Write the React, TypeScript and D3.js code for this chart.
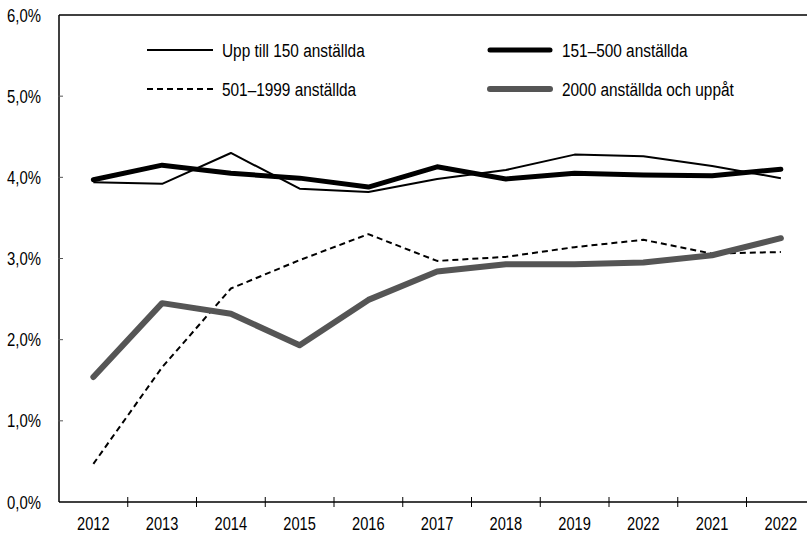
import React from "react";
import * as d3 from "d3";

const categories = ["2012", "2013", "2014", "2015", "2016", "2017", "2018", "2019", "2022", "2021", "2022"];
const upTo150 = [3.94, 3.92, 4.30, 3.86, 3.82, 3.98, 4.09, 4.28, 4.26, 4.14, 3.99];
const s151to500 = [3.97, 4.15, 4.05, 3.99, 3.88, 4.13, 3.98, 4.05, 4.03, 4.02, 4.10];
const s501to1999 = [0.47, 1.66, 2.63, 2.98, 3.30, 2.97, 3.02, 3.14, 3.23, 3.06, 3.08];
const s2000plus = [1.54, 2.45, 2.32, 1.93, 2.49, 2.84, 2.93, 2.93, 2.95, 3.04, 3.25];
const yTicks = [0, 1, 2, 3, 4, 5, 6];
const seriesNames = ["Upp till 150 anställda", "151–500 anställda", "501–1999 anställda", "2000 anställda och uppåt"];

const W = 807;
const H = 534;
const FONT = "'Liberation Sans', Arial, sans-serif";

function NText({ x, y, sx, size, anchor, children }: { x: number; y: number; sx: number; size: number; anchor?: string; children: React.ReactNode }) {
  return (
    <text
      transform={`translate(${x},${y}) scale(${sx},1)`}
      textAnchor={anchor || "start"}
      fontSize={size}
      fontFamily={FONT}
      fill="#000"
    >
      {children}
    </text>
  );
}

export default function App() {
  const left = 59;
  const top = 15;
  const bottom = 502;
  const band = 68.75;
  const idx = categories.map((_, i) => i);
  const x = d3.scaleBand<number>().domain(idx).range([left, left + band * categories.length]).padding(0);
  const y = d3.scaleLinear().domain([0, 6]).range([bottom, top]);
  const cx = (i: number) => (x(i) as number) + x.bandwidth() / 2;
  const line = d3.line<number>().x((_, i) => cx(i)).y((d) => y(d));

  const styles = [
    { data: upTo150, stroke: "#000", width: 2, dash: undefined as string | undefined, cap: "butt" },
    { data: s151to500, stroke: "#000", width: 5, dash: undefined, cap: "round" },
    { data: s501to1999, stroke: "#000", width: 2, dash: "6,4", cap: "butt" },
    { data: s2000plus, stroke: "#555", width: 6, dash: undefined, cap: "round" },
  ];

  const legendPos = [
    { x: 147, y: 50 },
    { x: 487, y: 50 },
    { x: 147, y: 89 },
    { x: 487, y: 89 },
  ];

  return (
    <svg width={W} height={H} style={{ position: "absolute", left: 0, top: 0, background: "#fff" }}>
      <rect x={0} y={0} width={W} height={H} fill="#fff" />
      {/* frame */}
      <line x1={left} x2={W} y1={top} y2={top} stroke="#000" strokeWidth={1.5} />
      <line x1={left} x2={left} y1={top} y2={bottom} stroke="#000" strokeWidth={1.5} />
      <line x1={left} x2={W} y1={bottom} y2={bottom} stroke="#000" strokeWidth={1.5} />
      {/* y ticks */}
      {yTicks.map((t) => (
        <g key={"y" + t}>
          {t > 0 && t < 6 && <line x1={left - 1} x2={left + 4} y1={y(t)} y2={y(t)} stroke="#555" strokeWidth={1} />}
          <NText x={41} y={y(t) + 6.5} sx={0.85} size={17.5} anchor="end">
            {t.toFixed(1).replace(".", ",") + "%"}
          </NText>
        </g>
      ))}
      {/* x ticks */}
      {idx.slice(1).map((i) => (
        <line key={"xt" + i} x1={x(i) as number} x2={x(i) as number} y1={bottom - 5} y2={bottom + 5} stroke="#000" strokeWidth={1} />
      ))}
      {categories.map((c, i) => (
        <NText key={"xl" + i} x={cx(i)} y={529.5} sx={0.77} size={19} anchor="middle">
          {c}
        </NText>
      ))}
      {/* series */}
      {styles.map((s, k) => (
        <path
          key={"s" + k}
          d={line(s.data) as string}
          fill="none"
          stroke={s.stroke}
          strokeWidth={s.width}
          strokeDasharray={s.dash}
          strokeLinecap={s.cap as any}
          strokeLinejoin="round"
        />
      ))}
      {/* legend */}
      {styles.map((s, k) => (
        <g key={"lg" + k}>
          <line
            x1={legendPos[k].x + (s.cap === "round" ? 3 : 0)}
            x2={legendPos[k].x + 66 - (s.cap === "round" ? 3 : 0)}
            y1={legendPos[k].y}
            y2={legendPos[k].y}
            stroke={s.stroke}
            strokeWidth={s.width}
            strokeDasharray={s.dash}
            strokeLinecap={s.cap as any}
          />
          <NText x={legendPos[k].x + 75} y={legendPos[k].y + 7} sx={0.81} size={19}>
            {seriesNames[k]}
          </NText>
        </g>
      ))}
    </svg>
  );
}
